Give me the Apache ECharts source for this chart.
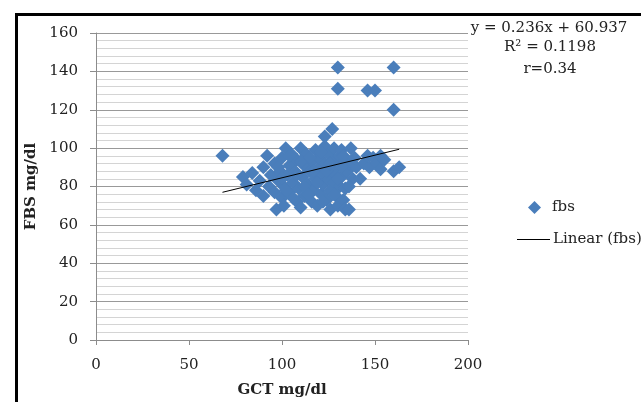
<!DOCTYPE html>
<html><head><meta charset="utf-8">
<script src="https://cdn.jsdelivr.net/npm/echarts@6/dist/echarts.min.js"></script>
<style>html,body{margin:0;padding:0;background:#fff}#c{width:641px;height:402px}</style>
</head><body><div id="c"></div>
<script>
// GCT (x) values, mg/dl
const gct = [68,
 79,81,84,86,88,90,90,92,93,94,96,96,
 97,98,99,100,100,101,101,102,103,104,104,105,106,107,108,108,109,110,110,111,112,112,113,114,115,116,116,117,118,118,119,120,120,121,122,122,123,123,124,125,125,126,126,127,127,128,128,129,129,130,130,131,131,132,132,133,134,134,134,135,136,136,137,138,140,
 98,100,102,104,106,108,110,112,114,115,117,119,121,122,124,126,128,130,132,133,136,139,
 142,144,146,147,149,151,153,153,155,160,163,
 123,127,130,130,146,150,160,160];
// FBS (y) values, mg/dl
const fbs = [96,
 85,81,87,78,83,75,90,96,80,86,92,77,
 68,83,88,95,74,70,80,100,86,91,77,97,82,88,72,94,79,69,100,85,91,75,97,81,88,93,72,78,99,84,70,90,95,76,81,87,101,92,73,84,97,68,78,89,94,100,82,75,86,70,91,96,80,85,99,73,68,94,79,88,68,92,100,84,90,
 90,84,78,96,74,86,93,80,76,95,88,82,98,72,88,92,76,84,90,96,80,95,
 84,92,96,90,95,92,96,89,94,88,90,
 106,110,131,142,130,130,120,142];
const slope = 0.236, intercept = 60.937;
const yTicks = [0,20,40,60,80,100,120,140,160];
const xTicks = [0,50,100,150,200];

const pts = gct.map((x,i)=>[x,fbs[i]]);
const xMin = Math.min(...gct), xMax = Math.max(...gct);
const trend = [[xMin, slope*xMin+intercept],[xMax, slope*xMax+intercept]];

const font = '"DejaVu Serif", "Liberation Serif", serif';
const chart = echarts.init(document.getElementById('c'));
chart.setOption({
  animation:false,
  backgroundColor:'#fff',
  grid:{left:96,right:173,top:33,bottom:62,containLabel:false,outerBoundsMode:'none'},
  xAxis:{type:'value',min:xTicks[0],max:xTicks[xTicks.length-1],interval:50,
    axisLine:{show:true,lineStyle:{color:'#8c8c8c'}},
    axisTick:{show:true,length:5,lineStyle:{color:'#8c8c8c'}},
    axisLabel:{color:'#222',fontFamily:font,fontSize:15,margin:18},
    splitLine:{show:false},
    name:'GCT mg/dl',nameLocation:'middle',nameGap:43,
    nameTextStyle:{fontFamily:font,fontSize:15,fontWeight:'bold',color:'#222'}},
  yAxis:{type:'value',min:yTicks[0],max:yTicks[yTicks.length-1],interval:20,
    axisLine:{show:true,lineStyle:{color:'#8c8c8c'}},
    axisTick:{show:true,length:6,lineStyle:{color:'#8c8c8c'}},
    axisLabel:{color:'#222',fontFamily:font,fontSize:15,margin:18},
    splitLine:{show:true,lineStyle:{color:'#999',width:1}},
    minorTick:{show:false,splitNumber:5},
    minorSplitLine:{show:true,lineStyle:{color:'#d4d4d4',width:1}},
    name:'FBS mg/dl',nameLocation:'middle',nameGap:54,
    nameTextStyle:{fontFamily:font,fontSize:15,fontWeight:'bold',color:'#222'}},
  legend:[
    {data:['fbs'],left:523,top:195,itemWidth:13,itemHeight:13,itemGap:9,icon:'diamond',
     textStyle:{fontFamily:font,fontSize:15,color:'#222',padding:[0,0,0,6]}},
    {data:[{name:'Linear (fbs)',icon:'rect'}],left:512,top:227,itemWidth:33,itemHeight:1,itemGap:4,
     itemStyle:{color:'#000'},
     textStyle:{fontFamily:font,fontSize:15,color:'#222',padding:[0,0,0,-2]}}
  ],
  series:[
    {name:'fbs',type:'scatter',data:pts,symbol:'diamond',symbolSize:14,
     itemStyle:{color:'#4a7ebb',opacity:1}},
    {name:'Linear (fbs)',type:'line',data:trend,symbol:'none',showSymbol:false,
     lineStyle:{color:'#000',width:1},itemStyle:{color:'#000'}}
  ],
  graphic:[
    {type:'rect',left:14,top:12,shape:{width:700,height:500},
     style:{fill:null,stroke:'#000',lineWidth:3},silent:true},
    {type:'text',x:549,y:21,style:{text:'y = 0.236x + 60.937',font:'15px '+font,fill:'#222',align:'center'}},
    {type:'text',x:550,y:40,style:{text:'R² = 0.1198',font:'15px '+font,fill:'#222',align:'center'}},
    {type:'text',x:550,y:62,style:{text:'r=0.34',font:'15px '+font,fill:'#222',align:'center'}}
  ]
});
</script></body></html>
